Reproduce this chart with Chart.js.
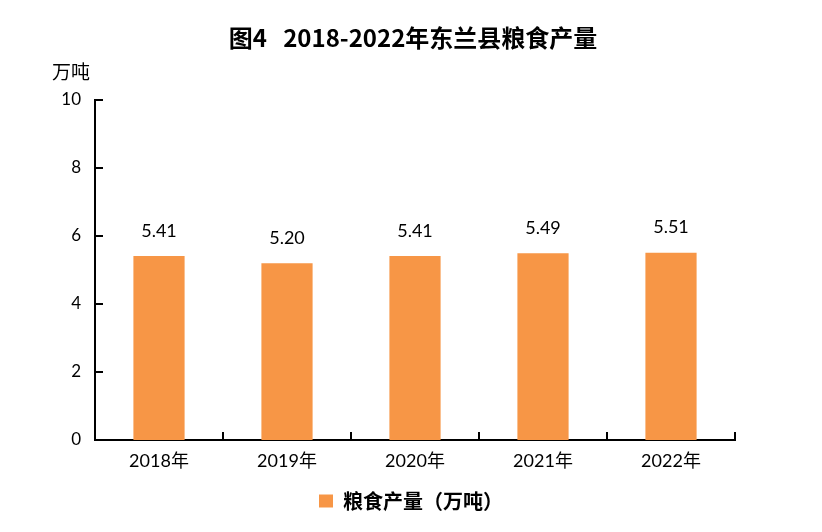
<!DOCTYPE html>
<html>
<head>
<meta charset="utf-8">
<script src="https://cdn.jsdelivr.net/npm/chart.js@4"></script>
<style>
  html, body { margin: 0; padding: 0; background: #fff; }
  #wrap { width: 822px; height: 532px; }
</style>
</head>
<body>
<div id="wrap"><canvas id="bar_chart" width="822" height="532"></canvas></div>
<script>
// data
var years = ['2018年', '2019年', '2020年', '2021年', '2022年'];
var output = [5.41, 5.20, 5.41, 5.49, 5.51];
var yTicks = [0, 2, 4, 6, 8, 10];

var FONT = "Lato, 'Noto Sans CJK SC', sans-serif";
var CJK = "'Noto Sans CJK SC', Lato, sans-serif";

// title, unit text, inward tick marks and value labels
var extras = {
    id: 'extras',
    afterDraw: function (chart) {
        var ctx = chart.ctx;
        var x = chart.scales.x, y = chart.scales.y;
        var area = chart.chartArea;
        ctx.save();

        ctx.fillStyle = '#000';
        ctx.textAlign = 'center';
        ctx.textBaseline = 'middle';
        ctx.font = "bold 24px " + CJK;
        ctx.fillText('图4   2018-2022年东兰县粮食产量', 413, 38);

        ctx.textAlign = 'left';
        ctx.font = "19px " + CJK;
        ctx.fillText('万吨', 52, 72);

        ctx.strokeStyle = '#000';
        ctx.lineWidth = 2;
        ctx.beginPath();
        yTicks.forEach(function (v) {
            var py = Math.round(y.getPixelForValue(v));
            ctx.moveTo(area.left, py);
            ctx.lineTo(area.left + 8, py);
        });
        for (var i = 0; i <= years.length; i++) {
            var px = Math.round(x.getPixelForValue(i - 0.5));
            ctx.moveTo(px, area.bottom);
            ctx.lineTo(px, area.bottom - 8);
        }
        ctx.stroke();

        ctx.textAlign = 'center';
        ctx.font = "18px " + FONT;
        var meta = chart.getDatasetMeta(0);
        meta.data.forEach(function (bar, i) {
            ctx.fillText(output[i].toFixed(2), bar.x, bar.y - 25);
        });
        ctx.restore();
    }
};

function getChartJs() {
    return {
        type: 'bar',
        data: {
            labels: years,
            datasets: [{
                label: '粮食产量（万吨）',
                data: output,
                backgroundColor: '#F79646',
                categoryPercentage: 1,
                barPercentage: 0.4
            }]
        },
        options: {
            responsive: false,
            animation: false,
            layout: { padding: { top: 100, right: 0, bottom: 11, left: 0 } },
            plugins: {
                title: { display: false },
                tooltip: { enabled: false },
                legend: {
                    position: 'bottom',
                    labels: {
                        boxWidth: 14,
                        boxHeight: 13,
                        padding: 10,
                        color: '#000',
                        font: { family: CJK, size: 20, weight: 'bold' }
                    }
                }
            },
            scales: {
                x: {
                    grid: { display: false, drawTicks: false },
                    border: { display: true, color: '#000', width: 2 },
                    ticks: { color: '#000', padding: 10, font: { family: FONT, size: 18 } },
                    afterFit: function (scale) { scale.height = 41; }
                },
                y: {
                    min: 0,
                    max: 10,
                    grid: { display: false, drawTicks: false },
                    border: { display: true, color: '#000', width: 2 },
                    ticks: { stepSize: 2, color: '#000', padding: 14, font: { family: FONT, size: 17 } },
                    afterFit: function (scale) { scale.width = 95; }
                },
                // empty right-hand axis keeps the plot and legend where the reference has them
                yRight: {
                    position: 'right',
                    display: true,
                    grid: { display: false, drawTicks: false },
                    border: { display: false },
                    ticks: { display: false },
                    afterFit: function (scale) { scale.width = 87; }
                }
            }
        },
        plugins: [extras]
    };
}

new Chart(document.getElementById('bar_chart').getContext('2d'), getChartJs());
</script>
</body>
</html>
